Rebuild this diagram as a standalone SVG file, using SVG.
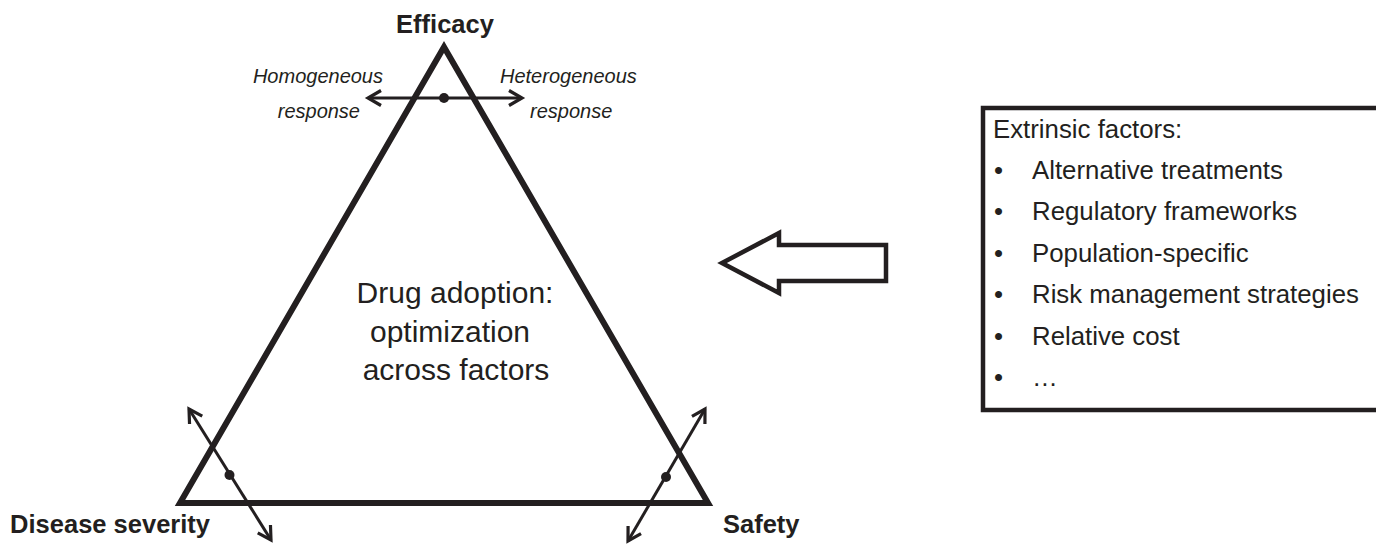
<svg xmlns="http://www.w3.org/2000/svg" width="1376" height="544" viewBox="0 0 1376 544">
  <style>
    .lbl { font-family: "Liberation Sans", Arial, sans-serif; fill: #231f20; }
    .bold { font-weight: bold; font-size: 25.5px; }
    .ital { font-style: italic; font-size: 20px; }
    .mid { font-size: 30px; }
    .list { font-size: 25.8px; }
    .thick { fill: none; stroke: #231f20; stroke-width: 6; stroke-linejoin: miter; stroke-miterlimit: 10; }
    .conn { fill: none; stroke: #231f20; stroke-width: 3; }
    .dot { fill: #231f20; }
  </style>
  <defs>
    <marker id="open" markerUnits="userSpaceOnUse" markerWidth="24" markerHeight="24" viewBox="-18 -12 24 24" refX="0" refY="0" orient="auto-start-reverse" overflow="visible">
      <path d="M -13 -7.5 L 0 0 L -13 7.5" fill="none" stroke="#231f20" stroke-width="3.2" stroke-linejoin="miter"/>
    </marker>
  </defs>
  <rect width="1376" height="544" fill="#ffffff"/>

  <g id="triangle">
    <path class="thick" d="M 444 47 L 708 503 L 180 503 Z"/>
    <text class="lbl mid" x="455" y="303" text-anchor="middle">Drug adoption:</text>
    <text class="lbl mid" x="450" y="342" text-anchor="middle">optimization</text>
    <text class="lbl mid" x="456" y="380" text-anchor="middle">across factors</text>
  </g>

  <g id="efficacy">
    <text class="lbl bold" x="445" y="33" text-anchor="middle">Efficacy</text>
    <text class="lbl ital" x="383" y="83" text-anchor="end">Homogeneous</text>
    <text class="lbl ital" x="360" y="118" text-anchor="end">response</text>
    <text class="lbl ital" x="500" y="83">Heterogeneous</text>
    <text class="lbl ital" x="530" y="118">response</text>
  </g>

  <g id="disease-severity">
    <text class="lbl bold" x="210" y="533" text-anchor="end">Disease severity</text>
  </g>

  <g id="safety">
    <text class="lbl bold" x="723" y="533">Safety</text>
  </g>

  <g id="extrinsic-factors">
    <path class="thick" d="M 1380 108 L 983 108 L 983 410 L 1380 410" style="stroke-width:4.5"/>
    <text class="lbl list" x="993" y="138">Extrinsic factors:</text>
    <g class="lbl list">
      <text x="994" y="179">•</text><text x="1032" y="179">Alternative treatments</text>
      <text x="994" y="220">•</text><text x="1032" y="220">Regulatory frameworks</text>
      <text x="994" y="262">•</text><text x="1032" y="262">Population-specific</text>
      <text x="994" y="303">•</text><text x="1032" y="303">Risk management strategies</text>
      <text x="994" y="345">•</text><text x="1032" y="345">Relative cost</text>
      <text x="994" y="386">•</text><text x="1032" y="386">…</text>
    </g>
  </g>

  <g id="connectors">
    <path class="thick" style="stroke-width:4.5" d="M 722 263 L 779 233 L 779 245 L 886 245 L 886 281 L 779 281 L 779 293 Z"/>
    <line class="conn" x1="368" y1="98" x2="522" y2="98" marker-start="url(#open)" marker-end="url(#open)"/>
    <circle class="dot" cx="444" cy="98" r="5"/>
    <line class="conn" x1="189" y1="409" x2="271" y2="540" marker-start="url(#open)" marker-end="url(#open)"/>
    <circle class="dot" cx="229.5" cy="475" r="5"/>
    <line class="conn" x1="705" y1="409" x2="628" y2="541" marker-start="url(#open)" marker-end="url(#open)"/>
    <circle class="dot" cx="666" cy="477" r="5"/>
  </g>
</svg>
